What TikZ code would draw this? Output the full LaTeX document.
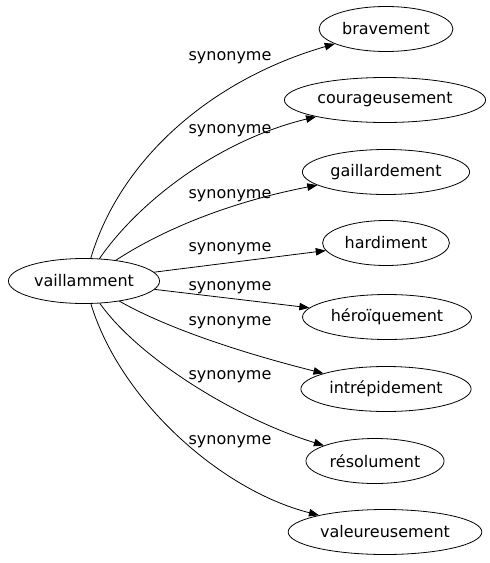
\documentclass[tikz,border=0pt]{standalone}
\usepackage{fontspec}
\setmainfont{DejaVu Sans}
\usepackage{tikz}
\usetikzlibrary{arrows.meta,positioning,shapes.geometric}
\tikzset{
  word/.style={ellipse,draw,line width=0.8pt,inner xsep=3.5pt,minimum height=45pt},
  rel/.style={line width=0.8pt,-{Triangle[length=10pt,width=7.5pt]}},
  lab/.style={inner sep=0pt},
  every node/.style={font=\fontsize{16pt}{19pt}\selectfont}
}

\begin{document}
\begin{tikzpicture}[x=1pt,y=-1pt,line cap=round,line join=round]
  % --- Window ---
  \useasboundingbox (0,0) rectangle (490,563);

  % --- Source ---
  \node[word] (v) at (84,281) {vaillamment};

  % --- Targets ---
  \node[word] (bra) at (386,29) {bravement};
  \node[word] (cou) at (385,100) {courageusement};
  \node[word] (gai) at (386,172) {gaillardement};
  \node[word] (har) at (386,243) {hardiment};
  \node[word] (her) at (387,317) {héroïquement};
  \node[word] (int) at (386,389) {intrépidement};
  \node[word] (res) at (375,461) {résolument};
  \node[word] (val) at (385,532) {valeureusement};

  % --- Labels ---
  \node[lab] (l1) at (230,58) {synonyme};
  \node[lab] (l2) at (230,131) {synonyme};
  \node[lab] (l3) at (230,196) {synonyme};
  \node[lab] (l4) at (230,249) {synonyme};
  \node[lab] (l5) at (230,288) {synonyme};
  \node[lab] (l6) at (230,323) {synonyme};
  \node[lab] (l7) at (230,377) {synonyme};
  \node[lab] (l8) at (230,442) {synonyme};

  % --- Edges ---
  \draw[rel] (v) .. controls (120,160) and (210,80) .. (bra);
  \draw[rel] (v) .. controls (140,200) and (220,140) .. (cou);
  \draw[rel] (v) .. controls (170,225) and (240,200) .. (gai);
  \draw[rel] (v) -- (har);
  \draw[rel] (v) -- (her);
  \draw[rel] (v) .. controls (170,330) and (250,355) .. (int);
  \draw[rel] (v) .. controls (140,360) and (240,420) .. (res);
  \draw[rel] (v) .. controls (120,400) and (220,490) .. (val);

\end{tikzpicture}
\end{document}
